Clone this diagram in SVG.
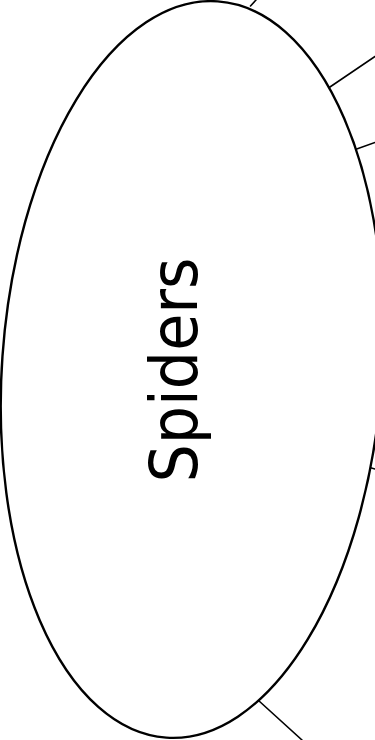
<svg xmlns="http://www.w3.org/2000/svg" width="375" height="740" viewBox="0 0 375 740">
<style>
.node{fill:#fff;stroke:#000;stroke-width:2.4}
.spoke{stroke:#000;stroke-width:1.6;fill:none;stroke-linecap:round}
.label{font-family:"DejaVu Sans","Liberation Sans",sans-serif;font-size:66px;fill:#000}
</style>
<rect width="375" height="740" fill="#fff"/>
<g id="connectors">
<line class="spoke" x1="250.5" y1="6" x2="256" y2="0"/>
<line class="spoke" x1="327" y1="89" x2="375" y2="56.5"/>
<line class="spoke" x1="352.5" y1="150.5" x2="375" y2="142.5"/>
<line class="spoke" x1="368" y1="467" x2="375" y2="469"/>
<line class="spoke" x1="258.5" y1="700.5" x2="302" y2="740"/>
</g>
<g id="spiders">
<ellipse class="node" cx="192" cy="369.5" rx="190" ry="369" transform="rotate(4 192 369.5)"/>
<text class="label" transform="translate(197,370) rotate(-90)" text-anchor="middle" textLength="225" lengthAdjust="spacingAndGlyphs">Spiders</text>
</g>
</svg>
